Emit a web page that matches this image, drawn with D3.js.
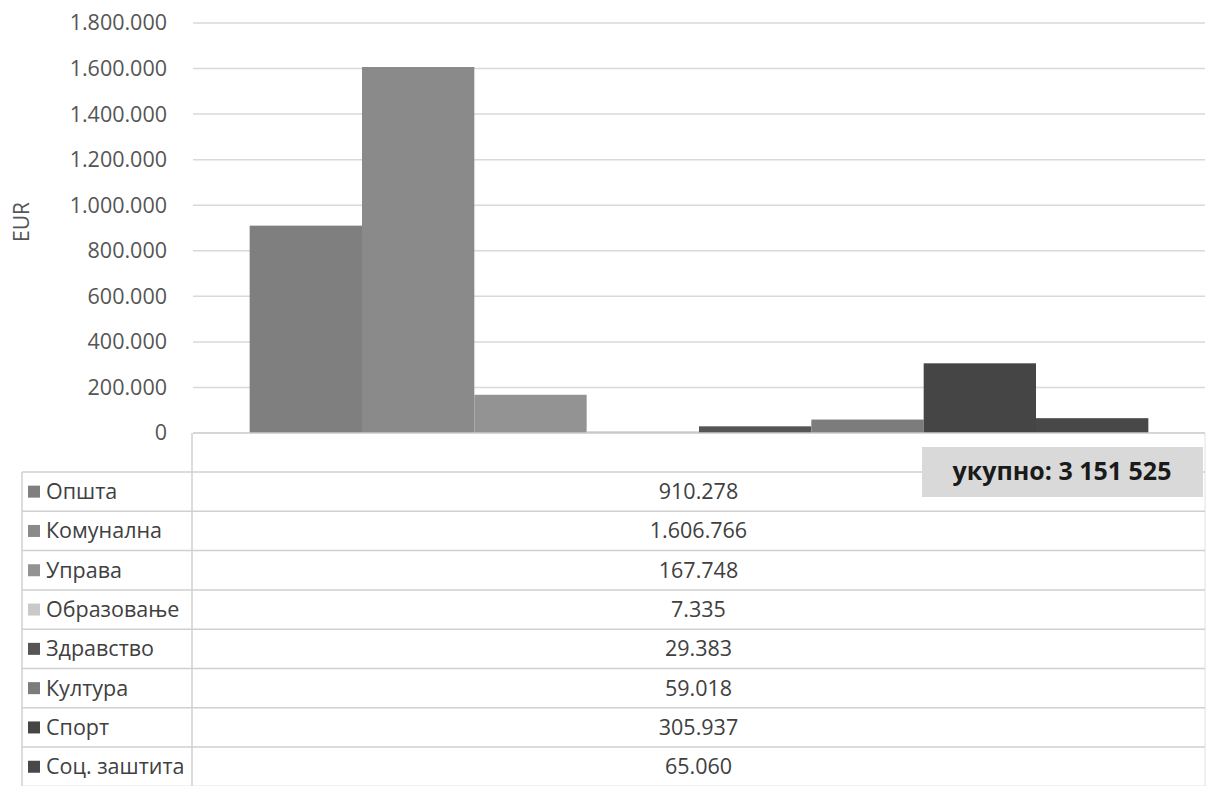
<!DOCTYPE html>
<html>
<head>
<meta charset="utf-8">
<script src="https://cdn.jsdelivr.net/npm/d3@7"></script>
<style>
  body { margin: 0; background: #fff; }
  text { font-family: "Open Sans", "Noto Sans", sans-serif; }
</style>
</head>
<body>
<div id="chart"></div>
<script>
// series (one category, eight series)
var seriesNames = ["Општа", "Комунална", "Управа", "Образовање", "Здравство", "Култура", "Спорт", "Соц. заштита"];
var seriesValues = [910278, 1606766, 167748, 7335, 29383, 59018, 305937, 65060];
var seriesColors = ["#7f7f7f", "#8a8a8a", "#939393", "#c9c9c9", "#555555", "#7c7c7c", "#454545", "#484848"];
var yTicks = [0, 200000, 400000, 600000, 800000, 1000000, 1200000, 1400000, 1600000, 1800000];
var categories = [""];
var totalLabel = "укупно: 3 151 525";

var width = 1208, height = 786;
var plot = { left: 193, right: 1205, top: 23, bottom: 433 };
var table = { left: 22, split: 192, right: 1205, top: 472, rowH: 39.3 };

var svg = d3.select("#chart").append("svg")
    .attr("width", width)
    .attr("height", height);

// european number format 1.800.000
var fmt = function (v) {
    return d3.format(",")(v).replace(/,/g, ".");
};

var y = d3.scaleLinear()
    .domain([0, 1800000])
    .range([plot.bottom, plot.top]);

var x0 = d3.scaleBand()
    .domain(categories)
    .range([plot.left, plot.right])
    .paddingInner(0.0593)
    .paddingOuter(0.0593);

var x1 = d3.scaleBand()
    .domain(seriesNames)
    .range([0, x0.bandwidth()])
    .padding(0);

// gridlines
svg.append("g")
    .selectAll("line")
    .data(yTicks.filter(function (d) { return d > 0; }))
    .enter()
    .append("line")
    .attr("x1", plot.left)
    .attr("x2", plot.right)
    .attr("y1", function (d) { return y(d); })
    .attr("y2", function (d) { return y(d); })
    .attr("stroke", "#d9d9d9")
    .attr("stroke-width", 1.5);

// y axis labels
var yAxis = d3.axisLeft(y)
    .tickValues(yTicks)
    .tickFormat(fmt)
    .tickSize(0)
    .tickPadding(0);

var gy = svg.append("g")
    .attr("transform", "translate(167,0)")
    .call(yAxis);
gy.select(".domain").remove();
gy.selectAll("text")
    .style("font-size", "21.5px")
    .style("fill", "#555555")
    .style("font-family", "'Open Sans', sans-serif");

svg.append("text")
    .attr("transform", "translate(29,222) rotate(-90)")
    .attr("text-anchor", "middle")
    .style("font-size", "21px")
    .style("fill", "#555555")
    .text("EUR");

// bars
svg.append("g")
    .selectAll("rect")
    .data(seriesNames)
    .enter()
    .append("rect")
    .attr("x", function (d) { return x0("") + x1(d); })
    .attr("width", x1.bandwidth())
    .attr("y", function (d, i) { return y(seriesValues[i]); })
    .attr("height", function (d, i) { return y(0) - y(seriesValues[i]); })
    .attr("fill", function (d, i) { return seriesColors[i]; });

// data table
var tg = svg.append("g");
var nRows = seriesNames.length;
var tableBottom = table.top + table.rowH * nRows;

// header cell (empty category label)
tg.append("line")
    .attr("x1", table.split).attr("x2", table.split)
    .attr("y1", plot.bottom).attr("y2", tableBottom)
    .attr("stroke", "#d0d0d0").attr("stroke-width", 1.5);
tg.append("line")
    .attr("x1", table.right).attr("x2", table.right)
    .attr("y1", plot.bottom).attr("y2", tableBottom)
    .attr("stroke", "#e2e2e2").attr("stroke-width", 1);
tg.append("line")
    .attr("x1", table.left).attr("x2", table.left)
    .attr("y1", table.top).attr("y2", tableBottom)
    .attr("stroke", "#d0d0d0").attr("stroke-width", 1.5);

tg.selectAll("line.row")
    .data(d3.range(nRows + 1))
    .enter()
    .append("line")
    .attr("class", "row")
    .attr("x1", table.left)
    .attr("x2", table.right)
    .attr("y1", function (i) { return table.top + i * table.rowH; })
    .attr("y2", function (i) { return table.top + i * table.rowH; })
    .attr("stroke", "#d0d0d0")
    .attr("stroke-width", 1.5);

// axis baseline
svg.append("line")
    .attr("x1", plot.left).attr("x2", plot.right)
    .attr("y1", plot.bottom).attr("y2", plot.bottom)
    .attr("stroke", "#c8c8c8").attr("stroke-width", 1.5);

var rows = tg.selectAll("g.trow")
    .data(seriesNames)
    .enter()
    .append("g")
    .attr("class", "trow")
    .attr("transform", function (d, i) {
        return "translate(0," + (table.top + i * table.rowH + table.rowH / 2) + ")";
    });

rows.append("rect")
    .attr("x", 28)
    .attr("y", -6)
    .attr("width", 12)
    .attr("height", 12)
    .attr("fill", function (d, i) { return seriesColors[i]; });

rows.append("text")
    .attr("x", 46)
    .attr("dy", "0.35em")
    .style("font-size", "21.5px")
    .style("fill", "#404040")
    .text(function (d) { return d; });

rows.append("text")
    .attr("x", (table.split + table.right) / 2)
    .attr("dy", "0.35em")
    .attr("text-anchor", "middle")
    .style("font-size", "21.5px")
    .style("fill", "#404040")
    .text(function (d, i) { return fmt(seriesValues[i]); });

// total box
var box = svg.append("g").attr("transform", "translate(922,447)");
box.append("rect")
    .attr("width", 281)
    .attr("height", 50)
    .attr("fill", "#d9d9d9");
box.append("text")
    .attr("x", 140)
    .attr("y", 24)
    .attr("dy", "0.35em")
    .attr("text-anchor", "middle")
    .style("font-size", "25px")
    .style("font-weight", "bold")
    .style("fill", "#1a1a1a")
    .text(totalLabel);
</script>
</body>
</html>
